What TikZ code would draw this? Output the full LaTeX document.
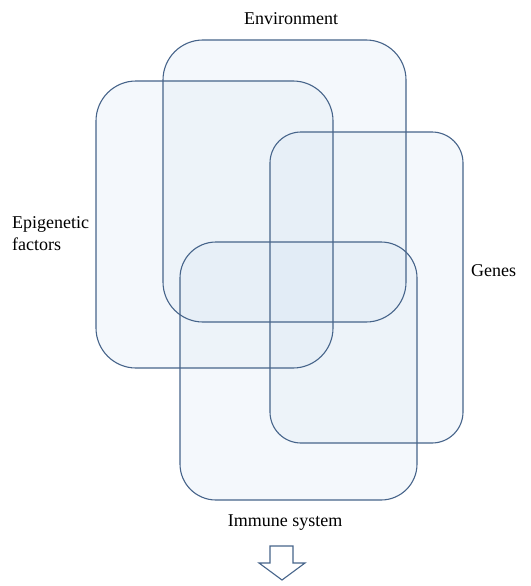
\documentclass[tikz,border=0pt]{standalone}
\usepackage{fontspec}
\setmainfont{Liberation Serif}
\usepackage{tikz}
\definecolor{boxline}{RGB}{70,100,138}
\definecolor{boxfill}{RGB}{213,227,242}
% corner radius / left / top / right / bottom
\newcommand\FieldList{40/163/40/406/322, 40/96/81/333/368,
  31/270/132/463/443, 36/180/242/417/500}

\begin{document}
\begin{tikzpicture}[x=1pt,y=-1pt,
  fieldfill/.style={fill=boxfill,fill opacity=0.25},
  fieldline/.style={draw=boxline,line width=1.1pt},
  lab/.style={font=\fontsize{18}{22}\selectfont,text=black,inner sep=0pt}]
\useasboundingbox (0,0) rectangle (530,586);
% the four fields: fills first, outlines on top
\foreach \r/\xa/\ya/\xb/\yb in \FieldList
  \fill[fieldfill,rounded corners=\r pt] (\xa,\ya) rectangle (\xb,\yb);
\foreach \r/\xa/\ya/\xb/\yb in \FieldList
  \draw[fieldline,rounded corners=\r pt] (\xa,\ya) rectangle (\xb,\yb);
% labels
\node[lab] (env) at (291,19) {Environment};
\node[lab,align=left,anchor=west] (epi) at (12,234) {Epigenetic\\factors};
\node[lab,anchor=west] (gen) at (471,271) {Genes};
\node[lab] (imm) at (285,523) {Immune system};
% arrow down
\draw[boxline,line width=1.1pt,fill=white]
  (270,546) -- (293,546) -- (293,563) -- (305,563) -- (282,580)
  -- (259,563) -- (270,563) -- cycle;
\end{tikzpicture}
\end{document}
